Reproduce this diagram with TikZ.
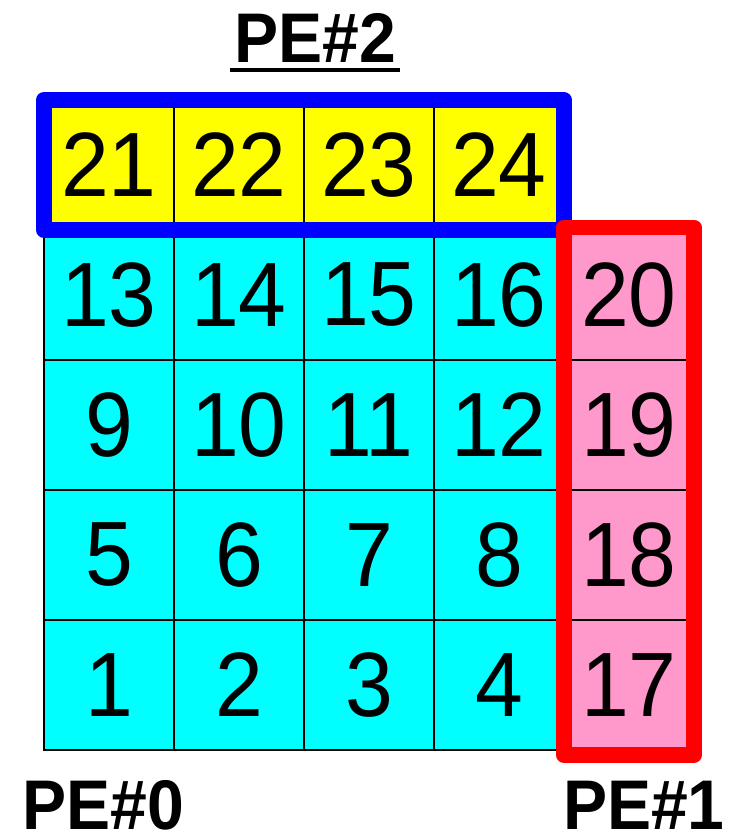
\documentclass[tikz,border=0pt]{standalone}
\usepackage{fontspec}
\setmainfont{Liberation Sans}[FakeStretch=0.94]
\definecolor{pecyan}{RGB}{0,255,255}
\definecolor{peyellow}{RGB}{255,255,0}
\definecolor{pepink}{RGB}{255,153,204}
\definecolor{peblue}{RGB}{0,0,255}
\definecolor{pered}{RGB}{255,0,0}

\tikzset{
  cellbox/.style={draw=black,line width=1.1pt,minimum size=2.6cm,inner sep=0pt,outer sep=0pt,
    font=\fontsize{52}{60}\selectfont},
  pelabel/.style={inner sep=0pt,anchor=base,font=\bfseries\fontsize{40}{48}\selectfont},
  peframe/.style={line width=9pt,line join=round}
}

\begin{document}
\begin{tikzpicture}[x=2.6cm,y=2.6cm]
\useasboundingbox (-0.338,-0.677) rectangle (5.269,5.769);

% Internal cells of PE#0
\foreach \j in {0,...,3}
\foreach \i in {0,...,3}
{\pgfmathtruncatemacro{\num}{4*\j+\i+1}
\node[cellbox,fill=pecyan] (c\num) at (\i+0.5,\j+0.5) {\num};}

% Cells from PE#1
\foreach \j in {0,...,3}
{\pgfmathtruncatemacro{\num}{17+\j}
\node[cellbox,fill=pepink] (c\num) at (4.5,\j+0.5) {\num};}

% Cells from PE#2
\foreach \i in {0,...,3}
{\pgfmathtruncatemacro{\num}{21+\i}
\node[cellbox,fill=peyellow] (c\num) at (\i+0.5,4.5) {\num};}

% Frames
\draw[peframe,peblue] (c21.north west) rectangle (c24.south east);
\draw[peframe,pered] ([yshift=0.05cm]c20.north west) rectangle ([yshift=-0.1cm]c17.south east);

% Labels
\node[pelabel] (pe2) at (2.085,5.285) {PE\#2};
\draw[line width=2.3pt] ([xshift=-2pt,yshift=-0.14cm]pe2.base west) -- ([xshift=2pt,yshift=-0.14cm]pe2.base east);
\node[pelabel] (pe0) at (0.458,-0.612) {PE\#0};
\node[pelabel] (pe1) at (4.615,-0.612) {PE\#1};
\end{tikzpicture}
\end{document}
